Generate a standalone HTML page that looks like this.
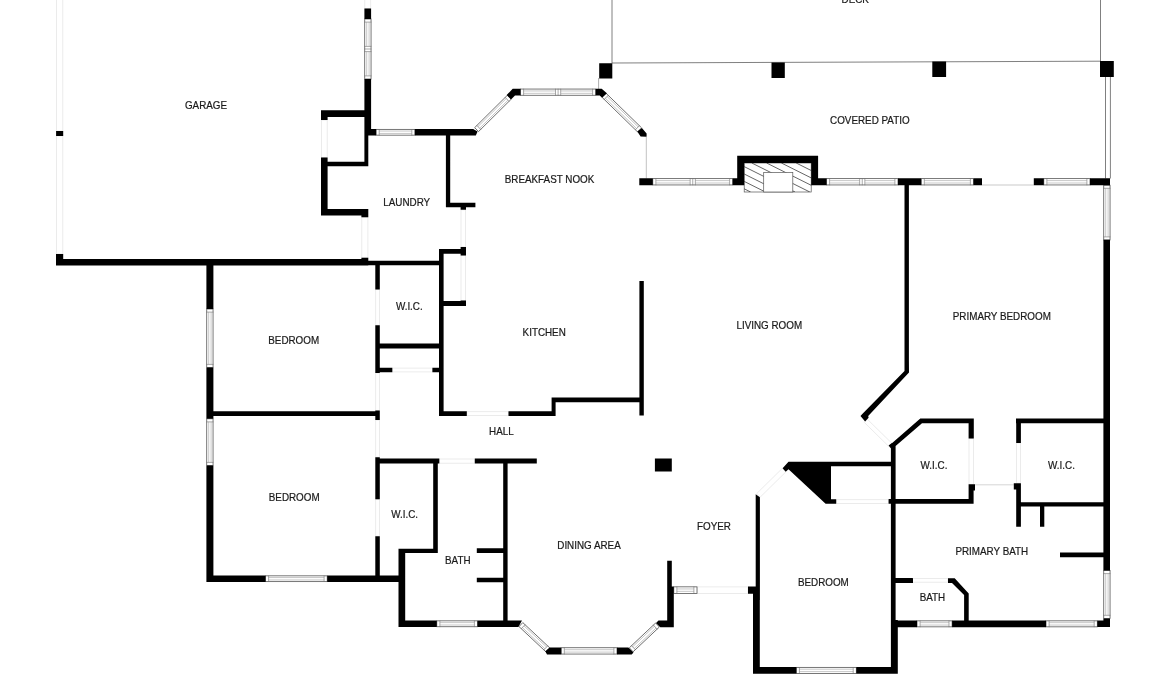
<!DOCTYPE html>
<html><head><meta charset="utf-8"><title>Floor plan</title>
<style>
html,body{margin:0;padding:0;background:#fff;overflow:hidden}
svg{display:block;filter:grayscale(1)}
text{font-family:"Liberation Sans",sans-serif;font-size:11.1px;fill:#1a1a1a;stroke:#1a1a1a;stroke-width:.22px;text-anchor:middle}
.wo{fill:#fff;stroke:#4a4a4a;stroke-width:.75}
.wl{stroke:#707070;stroke-width:.6;fill:none}
.wg{stroke:#909090;stroke-width:.5;fill:none}
.fo{fill:#fff;stroke:#e7e7e7;stroke-width:.8}
</style></head>
<body>
<svg width="1170" height="694" viewBox="0 0 1170 694">
<rect width="1170" height="694" fill="#fff"/>
<g class="fo">
<rect x="56.4" y="-2" width="6.4" height="133.1"/>
<rect x="56.4" y="135.9" width="6.4" height="118.1"/>
<rect x="364.8" y="-2" width="5.9" height="10.5"/>
<rect x="321.4" y="120" width="5.8" height="37.6"/>
<rect x="361.8" y="217.2" width="6.1" height="40.6"/>
<rect x="461" y="209.8" width="4.6" height="37.1"/>
<rect x="461" y="255.5" width="4.6" height="45.1"/>
<rect x="375.7" y="289.5" width="3.7" height="35.7"/>
<rect x="392.3" y="368.1" width="40.1" height="3.8"/>
<rect x="375.7" y="373" width="3.7" height="37.5"/>
<rect x="375.7" y="420" width="3.7" height="37.2"/>
<rect x="375.7" y="499.3" width="3.7" height="36.9"/>
<rect x="466.8" y="411.7" width="41.7" height="3.9"/>
<rect x="439.3" y="459" width="35.5" height="4.2"/>
<rect x="697" y="586.9" width="51" height="6.5"/>
<rect x="836.2" y="499.7" width="52.4" height="3.7"/>
<rect x="969" y="438.6" width="4.4" height="45.7"/>
<rect x="1016.6" y="443" width="3.9" height="40.2"/>
<rect x="912.6" y="578.4" width="35.4" height="3.8"/>
<rect x="0" y="-2.5" width="35.92" height="5" transform="translate(758.6 495.2) rotate(-44.55)"/>
<rect x="0" y="-2.2" width="35.99" height="4.4" transform="translate(865.8 420.8) rotate(44.44)"/>
</g>
<g>
<clipPath id="fc"><rect x="744.2" y="163" width="67" height="29"/></clipPath>
<rect x="744.2" y="163" width="67" height="29" fill="#fff" stroke="#555" stroke-width=".7"/>
<g clip-path="url(#fc)" stroke="#333" stroke-width=".75">
<line x1="663" y1="163" x2="721" y2="192"/>
<line x1="677.8" y1="163" x2="735.8" y2="192"/>
<line x1="692.6" y1="163" x2="750.6" y2="192"/>
<line x1="707.4" y1="163" x2="765.4" y2="192"/>
<line x1="722.2" y1="163" x2="780.2" y2="192"/>
<line x1="737" y1="163" x2="795" y2="192"/>
<line x1="751.8" y1="163" x2="809.8" y2="192"/>
<line x1="766.6" y1="163" x2="824.6" y2="192"/>
<line x1="781.4" y1="163" x2="839.4" y2="192"/>
<line x1="796.2" y1="163" x2="854.2" y2="192"/>
<line x1="811" y1="163" x2="869" y2="192"/>
<line x1="825.8" y1="163" x2="883.8" y2="192"/>
<line x1="840.6" y1="163" x2="898.6" y2="192"/>
<line x1="855.4" y1="163" x2="913.4" y2="192"/>
<line x1="870.2" y1="163" x2="928.2" y2="192"/>
<line x1="885" y1="163" x2="943" y2="192"/>
<line x1="899.8" y1="163" x2="957.8" y2="192"/>
<line x1="914.6" y1="163" x2="972.6" y2="192"/>
<line x1="929.4" y1="163" x2="987.4" y2="192"/>
<line x1="944.2" y1="163" x2="1002.2" y2="192"/>
</g>
<rect x="763.7" y="172.4" width="29.1" height="19.6" fill="#fff" stroke="#555" stroke-width=".7"/>
</g>
<line x1="612" y1="0" x2="612" y2="63.2" stroke="#555" stroke-width="0.75"/>
<line x1="612" y1="63" x2="1100.5" y2="61.2" stroke="#555" stroke-width="0.75"/>
<line x1="1100.5" y1="0" x2="1100.5" y2="61.2" stroke="#555" stroke-width="0.75"/>
<line x1="598.6" y1="78" x2="598.6" y2="89" stroke="#777" stroke-width="0.6"/>
<line x1="646.3" y1="137" x2="646.3" y2="178.5" stroke="#999" stroke-width="0.6"/>
<line x1="1105.5" y1="77" x2="1105.5" y2="178.5" stroke="#555" stroke-width="0.75"/>
<line x1="1110.4" y1="77" x2="1110.4" y2="178.5" stroke="#555" stroke-width="0.75"/>
<line x1="982" y1="185" x2="1033.8" y2="185" stroke="#bbb" stroke-width="0.8"/>
<line x1="975" y1="484.8" x2="1013.8" y2="484.8" stroke="#ccc" stroke-width="0.8"/>
<g transform="translate(367.9 19) rotate(90)"><rect class="wo" x="0" y="-3.15" width="60" height="6.3"/><path class="wl" d="M3.1 -3.5 V3.5 M56.9 -3.5 V3.5"/><path class="wl" d="M27.4 -3.5 V3.5 M30 -3.5 V3.5 M32.6 -3.5 V3.5"/><path class="wg" d="M3.1 -1.2 H27.4 M3.1 1.2 H27.4"/><path class="wg" d="M32.6 -1.2 H56.9 M32.6 1.2 H56.9"/></g>
<g transform="translate(376.1 132.25)"><rect class="wo" x="0" y="-2.9" width="38.8" height="5.8"/><path class="wl" d="M3.1 -3.25 V3.25 M35.7 -3.25 V3.25"/><path class="wg" d="M3.1 -1.2 H35.7 M3.1 1.2 H35.7"/></g>
<g transform="translate(520.5 92.15)"><rect class="wo" x="0" y="-3.1" width="75.2" height="6.2"/><path class="wl" d="M3.1 -3.45 V3.45 M72.1 -3.45 V3.45"/><path class="wl" d="M35 -3.45 V3.45 M37.6 -3.45 V3.45 M40.2 -3.45 V3.45"/><path class="wg" d="M3.1 -1.2 H35 M3.1 1.2 H35"/><path class="wg" d="M40.2 -1.2 H72.1 M40.2 1.2 H72.1"/></g>
<g transform="translate(652.8 181.8)"><rect class="wo" x="0" y="-3.15" width="79.9" height="6.3"/><path class="wl" d="M3.1 -3.5 V3.5 M76.8 -3.5 V3.5"/><path class="wl" d="M37.35 -3.5 V3.5 M39.95 -3.5 V3.5 M42.55 -3.5 V3.5"/><path class="wg" d="M3.1 -1.2 H37.35 M3.1 1.2 H37.35"/><path class="wg" d="M42.55 -1.2 H76.8 M42.55 1.2 H76.8"/></g>
<g transform="translate(826.5 181.8)"><rect class="wo" x="0" y="-3.15" width="71.5" height="6.3"/><path class="wl" d="M3.1 -3.5 V3.5 M68.4 -3.5 V3.5"/><path class="wl" d="M33.15 -3.5 V3.5 M35.75 -3.5 V3.5 M38.35 -3.5 V3.5"/><path class="wg" d="M3.1 -1.2 H33.15 M3.1 1.2 H33.15"/><path class="wg" d="M38.35 -1.2 H68.4 M38.35 1.2 H68.4"/></g>
<g transform="translate(921.2 181.8)"><rect class="wo" x="0" y="-3.15" width="52.3" height="6.3"/><path class="wl" d="M3.1 -3.5 V3.5 M49.2 -3.5 V3.5"/><path class="wg" d="M3.1 -1.2 H49.2 M3.1 1.2 H49.2"/></g>
<g transform="translate(1043.8 181.8)"><rect class="wo" x="0" y="-3.15" width="46.2" height="6.3"/><path class="wl" d="M3.1 -3.5 V3.5 M43.1 -3.5 V3.5"/><path class="wg" d="M3.1 -1.2 H43.1 M3.1 1.2 H43.1"/></g>
<g transform="translate(1106.9 185.2) rotate(90)"><rect class="wo" x="0" y="-3.15" width="54.8" height="6.3"/><path class="wl" d="M3.1 -3.5 V3.5 M51.7 -3.5 V3.5"/><path class="wg" d="M3.1 -1.2 H51.7 M3.1 1.2 H51.7"/></g>
<g transform="translate(1106.9 570.5) rotate(90)"><rect class="wo" x="0" y="-3.15" width="47.9" height="6.3"/><path class="wl" d="M3.1 -3.5 V3.5 M44.8 -3.5 V3.5"/><path class="wg" d="M3.1 -1.2 H44.8 M3.1 1.2 H44.8"/></g>
<g transform="translate(209.9 309) rotate(90)"><rect class="wo" x="0" y="-3.15" width="58.5" height="6.3"/><path class="wl" d="M3.1 -3.5 V3.5 M55.4 -3.5 V3.5"/><path class="wg" d="M3.1 -1.2 H55.4 M3.1 1.2 H55.4"/></g>
<g transform="translate(209.9 418.8) rotate(90)"><rect class="wo" x="0" y="-3.15" width="46.7" height="6.3"/><path class="wl" d="M3.1 -3.5 V3.5 M43.6 -3.5 V3.5"/><path class="wg" d="M3.1 -1.2 H43.6 M3.1 1.2 H43.6"/></g>
<g transform="translate(265.5 578.75)"><rect class="wo" x="0" y="-2.9" width="61.7" height="5.8"/><path class="wl" d="M3.1 -3.25 V3.25 M58.6 -3.25 V3.25"/><path class="wg" d="M3.1 -1.2 H58.6 M3.1 1.2 H58.6"/></g>
<g transform="translate(436.8 623.8)"><rect class="wo" x="0" y="-2.95" width="40.7" height="5.9"/><path class="wl" d="M3.1 -3.3 V3.3 M37.6 -3.3 V3.3"/><path class="wg" d="M3.1 -1.2 H37.6 M3.1 1.2 H37.6"/></g>
<g transform="translate(561.2 650.9)"><rect class="wo" x="0" y="-3.15" width="55.8" height="6.3"/><path class="wl" d="M3.1 -3.5 V3.5 M52.7 -3.5 V3.5"/><path class="wg" d="M3.1 -1.2 H52.7 M3.1 1.2 H52.7"/></g>
<g transform="translate(673.8 590.15)"><rect class="wo" x="0" y="-3.3" width="23.2" height="6.6"/><path class="wl" d="M3.1 -3.65 V3.65 M20.1 -3.65 V3.65"/><path class="wg" d="M3.1 -1.2 H20.1 M3.1 1.2 H20.1"/></g>
<g transform="translate(796.3 670.4)"><rect class="wo" x="0" y="-3.05" width="60" height="6.1"/><path class="wl" d="M3.1 -3.4 V3.4 M56.9 -3.4 V3.4"/><path class="wg" d="M3.1 -1.2 H56.9 M3.1 1.2 H56.9"/></g>
<g transform="translate(917 623.85)"><rect class="wo" x="0" y="-3" width="35.1" height="6"/><path class="wl" d="M3.1 -3.35 V3.35 M32 -3.35 V3.35"/><path class="wg" d="M3.1 -1.2 H32 M3.1 1.2 H32"/></g>
<g transform="translate(1046 623.85)"><rect class="wo" x="0" y="-3" width="51.3" height="6"/><path class="wl" d="M3.1 -3.35 V3.35 M48.2 -3.35 V3.35"/><path class="wg" d="M3.1 -1.2 H48.2 M3.1 1.2 H48.2"/></g>
<g transform="translate(476.6 129.6) rotate(-44.74)"><rect class="wo" x="0" y="-2.75" width="46.03" height="5.5"/><path class="wl" d="M3.1 -3.1 V3.1 M42.93 -3.1 V3.1"/><path class="wg" d="M3.1 -1.2 H42.93 M3.1 1.2 H42.93"/></g>
<g transform="translate(604 95.2) rotate(44.27)"><rect class="wo" x="0" y="-2.85" width="49.71" height="5.7"/><path class="wl" d="M3.1 -3.2 V3.2 M46.61 -3.2 V3.2"/><path class="wg" d="M3.1 -1.2 H46.61 M3.1 1.2 H46.61"/></g>
<g transform="translate(520.9 624.6) rotate(43.15)"><rect class="wo" x="0" y="-2.75" width="37.14" height="5.5"/><path class="wl" d="M3.1 -3.1 V3.1 M34.04 -3.1 V3.1"/><path class="wg" d="M3.1 -1.2 H34.04 M3.1 1.2 H34.04"/></g>
<g transform="translate(631.2 649.8) rotate(-43.32)"><rect class="wo" x="0" y="-2.75" width="36.15" height="5.5"/><path class="wl" d="M3.1 -3.1 V3.1 M33.05 -3.1 V3.1"/><path class="wg" d="M3.1 -1.2 H33.05 M3.1 1.2 H33.05"/></g>
<path fill="#000" d="
M56.1 131.1H63.2V135.9H56.1ZM56 254H63.2V265.4H56ZM56 259H368.3V265.4H56ZM368 260.8H439V265.3H368ZM364.4 8.5H371.1V19H364.4ZM364.4 79H371.1V135.5H364.4Z
M364.4 135H368.3V166.2H364.4ZM321 110.2H370V117H321ZM321 110.2H327.6V120H321ZM321 157.6H327.6V215.6H321ZM327 161.7H368.3V166.2H327ZM321 209H368.3V215.6H321Z
M361.4 215H368.3V217.2H361.4ZM361.4 257.8H368.3V261H361.4ZM370 129H376.1V135.5H370ZM445.9 135H450.2V207.3H445.9ZM445.9 202.8H475.4V207.3H445.9ZM460.6 207H466V209.8H460.6Z
M460.6 246.9H466V255.5H460.6ZM439 249H466V253.8H439ZM439 249H443.6V416H439ZM443 301H466V306H443ZM460.6 300.6H466V306H460.6ZM206.4 265H213.4V309H206.4Z
M206.4 367.5H213.4V418.8H206.4ZM206.4 465.5H213.4V582H206.4ZM213 411.3H379.8V416H213ZM375.3 410.5H379.8V420H375.3ZM375.3 265H379.8V289.5H375.3ZM375.3 325.2H379.8V373H375.3Z
M375.3 343.5H443V348.5H375.3ZM375.3 367.7H392.3V372.3H375.3ZM432.4 367.7H443V372.3H432.4ZM439 411.3H466.8V416H439ZM508.5 411.3H555.6V416H508.5ZM551.6 397.6H555.6V416H551.6Z
M551.6 397.6H643.8V402.2H551.6ZM639.4 281H643.8V415.6H639.4ZM375.3 458.6H439.3V463.6H375.3ZM474.8 458.6H536.8V463.6H474.8ZM375.3 457.2H379.8V499.3H375.3ZM433.2 463H437.8V553H433.2Z
M503.2 463H507.6V627.1H503.2ZM375.3 536.2H379.8V582H375.3ZM206.4 575.5H265.5V582H206.4ZM327.2 575.5H404.8V582H327.2ZM398.5 548.7H405.2V627.1H398.5ZM398.5 548.7H437.8V553H398.5Z
M398.5 620.5H436.8V627.1H398.5ZM476.8 548.3H504V553H476.8ZM476.8 577.8H504V582.2H476.8ZM667.2 560.8H671.8V621H667.2ZM667.2 586.5H673.8V621H667.2ZM654.9 458.6H671.8V471.4H654.9Z
M748 586.5H756V593.8H748ZM753 593H759.8V673.8H753ZM753 667H796.3V673.8H753ZM856.3 667H897.6V673.8H856.3ZM890.9 444.5H895.6V624H890.9ZM890.9 620H897.8V673.8H890.9Z
M895 578H912.6V582.6H895ZM890.9 620.5H917V627.2H890.9ZM789 461.7H891.6V466.3H789ZM826 499.3H836.2V503.8H826ZM888.6 499H973.6V503.8H888.6ZM904.5 185H908.9V371H904.5Z
M968.6 418.6H973.8V438.6H968.6ZM968.6 484.3H975V490.4H968.6ZM968.6 484.3H973.6V503.8H968.6ZM1016 418.6H1103.5V423.2H1016ZM1016.2 418.6H1020.9V443H1016.2ZM1013.8 483.2H1020.9V489.6H1013.8Z
M1016.2 483.2H1020.9V526.8H1016.2ZM1020 502.2H1103.5V506.4H1020ZM1040 506H1044.3V526.8H1040ZM1060 552.6H1103.5V557.2H1060ZM1103.4 239.8H1110V570.5H1103.4ZM1103.4 618.4H1110V627.1H1103.4Z
M1097.3 620.4H1110V627.1H1097.3ZM952.1 620.5H1046V627.2H952.1ZM895 578.3H913V583H895ZM639.3 178.3H652.8V185.3H639.3ZM732.7 178.3H744.2V185.3H732.7ZM811.2 178.3H826.5V185.3H811.2Z
M898 178.3H921.2V185.3H898ZM973.5 178.3H982V185.3H973.5ZM1033.8 178.3H1043.8V185.3H1033.8ZM1090 178.3H1110V185.3H1090ZM737.2 155.8H818.1V163H737.2ZM737.2 155.8H744.2V185.3H737.2Z
M811.2 155.8H818.1V185.3H811.2ZM599.2 63.2H612.3V78.6H599.2ZM771.5 62.6H784.8V78H771.5ZM932.3 61.6H946.1V77H932.3ZM1100 61H1113.8V77H1100ZM414.9 129L473.2 129L477.6 131.5L475.8 135.5L414.9 135.5Z
M477.5 620.5L522 620.5L518.4 627.1L477.5 627.1ZM549.6 647.4L561.2 647.4L561.2 654.4L547 654.4L545.3 651.2ZM617 647.4L628.3 647.4L633.5 652.6L631.7 654.4L617 654.4ZM658.5 620.6L673.8 620.6L673.8 627.2L660.3 627.2L656 622.9ZM755.7 494.3L759.9 497.2L759.9 600L755.7 600ZM788.5 461.8L831 461.8L831 503.8L825.6 503.8L788.5 469.2L785.7 471.7L782.6 468.3Z
M904.5 360L908.9 360L909 372.6L868.2 416L868.6 417.8L865.1 421.5L860.5 415.9L862.3 413.9L904.5 371ZM888.6 445.6L891.8 443L894.6 445.8L891 448.5ZM889.6 445.2L920.3 418.6L973.8 418.6L973.8 423.2L922 423.2L895.6 446.1L895.6 448L891 448ZM948 578.3L954.7 578.3L968.7 593.4L968.7 621L964.1 621L964.1 595.1L952 583L948 583ZM512.7 88.7L520.5 88.7L520.5 95.6L515 95.6L511 99.4L506.7 95ZM595.7 88.7L601.7 88.7L606.9 93.3L602.1 97.7L599.7 95.6L595.7 95.6Z
M637.3 131.6L641.9 128.1L646.6 133.4L646.6 136.8L640.6 136.4Z
"/>
<text transform="translate(855.2 2.9) scale(.887 1)">DECK</text>
<text transform="translate(206 108.7) scale(.887 1)">GARAGE</text>
<text transform="translate(869.8 123.9) scale(.887 1)">COVERED PATIO</text>
<text transform="translate(549.5 182.8) scale(.887 1)">BREAKFAST NOOK</text>
<text transform="translate(406.7 205.9) scale(.887 1)">LAUNDRY</text>
<text transform="translate(409.3 310.3) scale(.887 1)">W.I.C.</text>
<text transform="translate(293.7 344.4) scale(.887 1)">BEDROOM</text>
<text transform="translate(544.2 335.6) scale(.887 1)">KITCHEN</text>
<text transform="translate(769.3 328.7) scale(.887 1)">LIVING ROOM</text>
<text transform="translate(1001.8 320) scale(.887 1)">PRIMARY BEDROOM</text>
<text transform="translate(501.4 434.8) scale(.887 1)">HALL</text>
<text transform="translate(294.2 501.4) scale(.887 1)">BEDROOM</text>
<text transform="translate(404.6 517.9) scale(.887 1)">W.I.C.</text>
<text transform="translate(934 468.5) scale(.887 1)">W.I.C.</text>
<text transform="translate(1061.5 468.5) scale(.887 1)">W.I.C.</text>
<text transform="translate(457.8 563.6) scale(.887 1)">BATH</text>
<text transform="translate(589 548.5) scale(.887 1)">DINING AREA</text>
<text transform="translate(714 529.5) scale(.887 1)">FOYER</text>
<text transform="translate(823.4 585.8) scale(.887 1)">BEDROOM</text>
<text transform="translate(991.8 555.3) scale(.887 1)">PRIMARY BATH</text>
<text transform="translate(932.4 600.8) scale(.887 1)">BATH</text>
</svg>
</body></html>
